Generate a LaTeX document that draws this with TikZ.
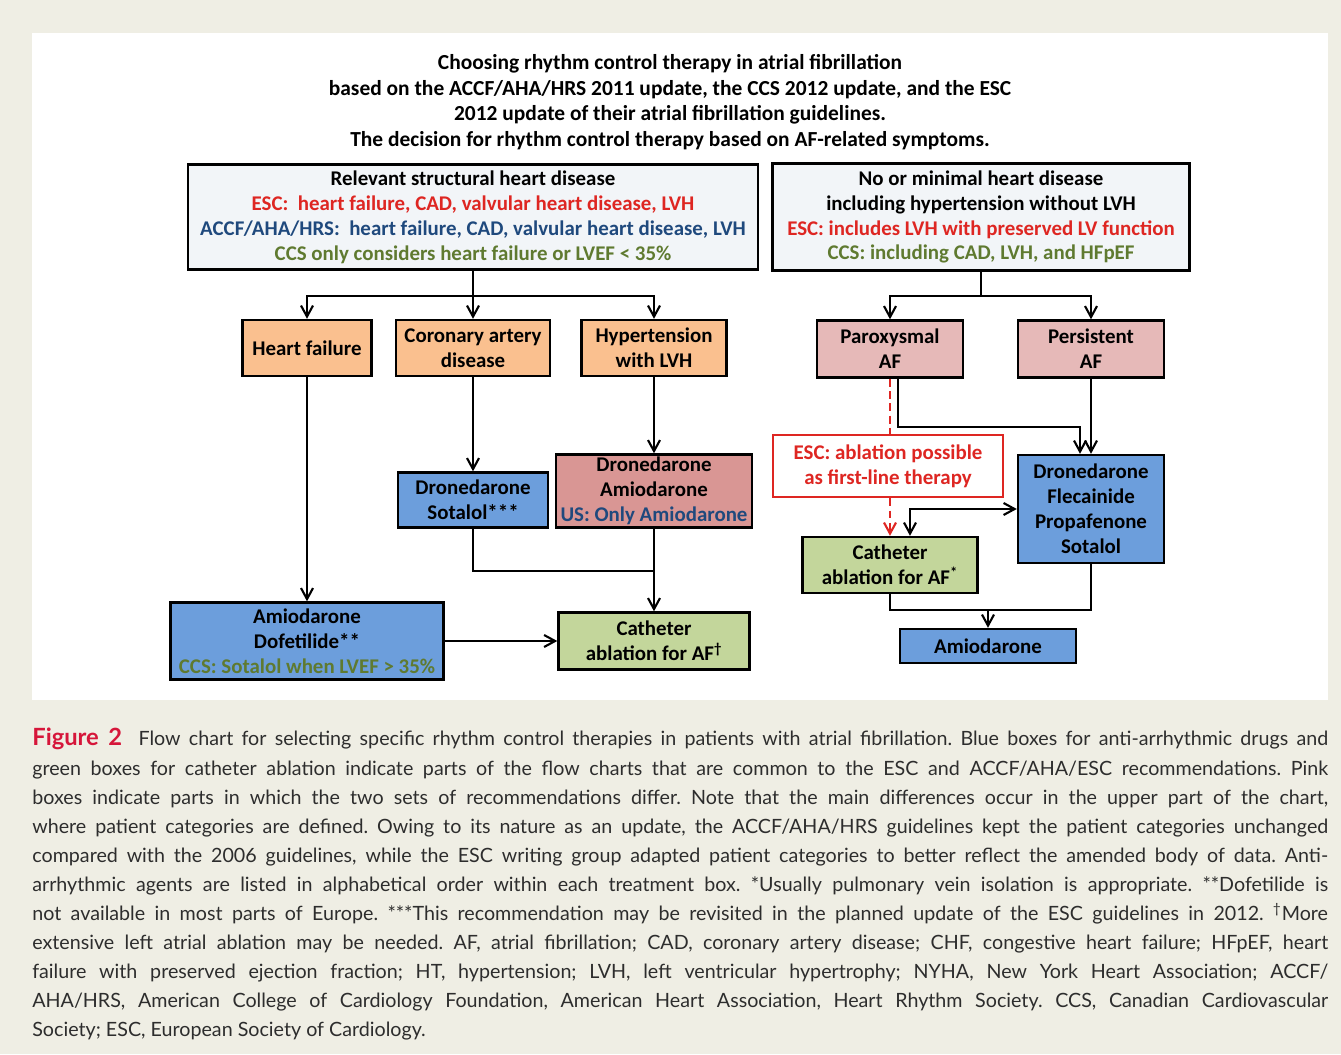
\documentclass[tikz,border=0pt]{standalone}
\usepackage{fontspec}
\setmainfont{Carlito}
\newfontfamily\capfont{Lato}
\usetikzlibrary{positioning,arrows.meta}
\definecolor{pagebeige}{RGB}{239,238,228}
\definecolor{topfill}{RGB}{242,245,248}
\definecolor{orangefill}{RGB}{250,192,143}
\definecolor{pinkfill}{RGB}{230,185,184}
\definecolor{rosefill}{RGB}{217,150,148}
\definecolor{bluefill}{RGB}{108,158,220}
\definecolor{greenfill}{RGB}{195,214,155}
\definecolor{escred}{RGB}{222,38,34}
\definecolor{accblue}{RGB}{31,73,125}
\definecolor{ccsgreen}{RGB}{95,122,48}
\definecolor{figred}{RGB}{214,22,58}
\definecolor{captext}{RGB}{45,45,45}
\tikzset{
  fc box/.style={
    draw=black,
    line width=1.4pt,
    align=center,
    inner sep=1pt,
    font=\fontsize{11.9}{14.2}\selectfont\bfseries
  },
  top box/.style={fc box, fill=topfill},
  group box/.style={fc box, fill=orangefill},
  type box/.style={fc box, fill=pinkfill},
  drug box/.style={fc box, fill=bluefill},
  ablate box/.style={fc box, fill=greenfill},
  note box/.style={fc box, draw=escred, text=escred, fill=white},
  flow line/.style={line width=1.2pt, black},
  flow arrow/.style={
    flow line,
    -{Straight Barb[length=2.2mm,width=2.4mm]}
  },
  esc line/.style={line width=1.2pt, escred, dash pattern=on 4.5pt off 2.5pt}
}

\begin{document}
\begin{tikzpicture}[x=0.02cm, y=-0.02cm]

  % Page and panel
  \useasboundingbox (0,0) rectangle (1341,1054);
  \fill[pagebeige] (0,0) rectangle (1341,1054);
  \fill[white] (32,33) rectangle (1328,700);

  % Title
  \node[font=\fontsize{12.2}{14.6}\selectfont\bfseries, align=center] (title) at (670,102)
    {Choosing rhythm control therapy in atrial fibrillation\\
     based on the ACCF/AHA/HRS 2011 update, the CCS 2012 update, and the ESC\\
     2012 update of their atrial fibrillation guidelines.\\
     The decision for rhythm control therapy based on AF-related symptoms.};

  % Patient categories
  \node[top box, minimum width=11.4cm, minimum height=2.1cm] (shd) at (473,217)
    {Relevant structural heart disease\\
     \textcolor{escred}{ESC:~ heart failure, CAD, valvular heart disease, LVH}\\
     \textcolor{accblue}{ACCF/AHA/HRS:~ heart failure, CAD, valvular heart disease, LVH}\\
     \textcolor{ccsgreen}{CCS only considers heart failure or LVEF < 35\%}};
  \node[top box, minimum width=8.34cm, minimum height=2.14cm] (nhd) at (981,217)
    {No or minimal heart disease\\
     including hypertension without LVH\\
     \textcolor{escred}{ESC: includes LVH with preserved LV function}\\
     \textcolor{ccsgreen}{CCS: including CAD, LVH, and HFpEF}};

  % Left branch
  \node[group box, minimum width=2.58cm, minimum height=1.12cm] (hf) at (307,348) {Heart failure};
  \node[group box, minimum width=3.08cm, minimum height=1.12cm] (cad) at (473,348) {Coronary artery\\disease};
  \node[group box, minimum width=2.9cm, minimum height=1.12cm] (htn) at (654,348) {Hypertension\\with LVH};
  \node[drug box, minimum width=3.0cm, minimum height=1.1cm] (dsot) at (473,500) {Dronedarone\\Sotalol***};
  \node[fc box, fill=rosefill, minimum width=3.92cm, minimum height=1.46cm] (damio) at (654,491)
    {Dronedarone\\Amiodarone\\\textcolor{accblue}{US: Only Amiodarone}};
  \node[drug box, minimum width=5.46cm, minimum height=1.54cm] (adof) at (307,641)
    {Amiodarone\\Dofetilide**\\\textcolor{ccsgreen}{CCS: Sotalol when LVEF > 35\%}};
  \node[ablate box, minimum width=3.82cm, minimum height=1.14cm] (cabl) at (654,641)
    {Catheter\\ablation for AF\textsuperscript{\dag}};

  % Right branch
  \node[type box, minimum width=2.92cm, minimum height=1.14cm] (parox) at (890,349) {Paroxysmal\\AF};
  \node[type box, minimum width=2.92cm, minimum height=1.14cm] (pers) at (1091,349) {Persistent\\AF};
  \node[note box, minimum width=4.6cm, minimum height=1.24cm] (escnote) at (888,466)
    {ESC: ablation possible\\as first-line therapy};
  \node[drug box, minimum width=2.92cm, minimum height=2.16cm] (dflec) at (1091,509)
    {Dronedarone\\Flecainide\\Propafenone\\Sotalol};
  \node[ablate box, minimum width=3.5cm, minimum height=1.12cm] (cabr) at (890,565)
    {Catheter\\ablation for AF\textsuperscript{*}};
  \node[drug box, minimum width=3.52cm, minimum height=0.68cm] (amior) at (988,646) {Amiodarone};

  % Junctions
  \coordinate (jl) at (473,296);
  \coordinate (jr) at (981,296);
  \coordinate (jm) at (654,571);
  \coordinate (kp) at (898,427);
  \coordinate (kd) at (1080,427);
  \coordinate (kc) at (910,509);
  \coordinate (jb) at (988,610);

  % Left connectors
  \draw[flow line] (shd) -- (jl);
  \draw[flow arrow] (jl) -| (hf);
  \draw[flow arrow] (jl) -- (cad);
  \draw[flow arrow] (jl) -| (htn);
  \draw[flow arrow] (hf) -- (adof);
  \draw[flow arrow] (cad) -- (dsot);
  \draw[flow arrow] (htn) -- (damio);
  \draw[flow line] (dsot) |- (jm);
  \draw[flow arrow] (damio) -- (cabl);
  \draw[flow arrow] (adof) -- (cabl);

  % Right connectors
  \draw[flow line] (nhd) -- (jr);
  \draw[flow arrow] (jr) -| (parox);
  \draw[flow arrow] (jr) -| (pers);
  \draw[flow arrow] (pers) -- (dflec);
  \draw[flow arrow] (parox.south -| kp) -- (kp) -- (kd) -- (kd |- dflec.north);
  \draw[esc line] (parox) -- (parox |- escnote.north);
  \draw[esc line, -{Straight Barb[length=2.2mm,width=2.4mm]}] (parox |- escnote.south) -- (cabr);
  \draw[flow line, {Straight Barb[length=2.2mm,width=2.4mm]}-{Straight Barb[length=2.2mm,width=2.4mm]}]
    (kc |- cabr.north) -- (kc) -- (dflec.west);
  \draw[flow line] (cabr) |- (jb);
  \draw[flow line] (dflec) |- (jb);
  \draw[flow arrow] (jb) -- (amior);

  % Caption
  \node[anchor=north west, inner sep=0pt, align=left, text=captext,
        font=\capfont\fontsize{11.2}{16.56}\selectfont\frenchspacing] (caption) at (32,728)
    {\makebox[25.92cm][s]{{\fontsize{13.5}{16}\selectfont\bfseries\color{figred}Figure 2}\ \ Flow chart for selecting specific rhythm control therapies in patients with atrial fibrillation. Blue boxes for anti-arrhythmic drugs and}\\
     \makebox[25.92cm][s]{green boxes for catheter ablation indicate parts of the flow charts that are common to the ESC and ACCF/AHA/ESC recommendations. Pink}\\
     \makebox[25.92cm][s]{boxes indicate parts in which the two sets of recommendations differ. Note that the main differences occur in the upper part of the chart,}\\
     \makebox[25.92cm][s]{where patient categories are defined. Owing to its nature as an update, the ACCF/AHA/HRS guidelines kept the patient categories unchanged}\\
     \makebox[25.92cm][s]{compared with the 2006 guidelines, while the ESC writing group adapted patient categories to better reflect the amended body of data. Anti-}\\
     \makebox[25.92cm][s]{arrhythmic agents are listed in alphabetical order within each treatment box. *Usually pulmonary vein isolation is appropriate. **Dofetilide is}\\
     \makebox[25.92cm][s]{not available in most parts of Europe. ***This recommendation may be revisited in the planned update of the ESC guidelines in 2012. \textsuperscript{\dag}More}\\
     \makebox[25.92cm][s]{extensive left atrial ablation may be needed. AF, atrial fibrillation; CAD, coronary artery disease; CHF, congestive heart failure; HFpEF, heart}\\
     \makebox[25.92cm][s]{failure with preserved ejection fraction; HT, hypertension; LVH, left ventricular hypertrophy; NYHA, New York Heart Association; ACCF/}\\
     \makebox[25.92cm][s]{AHA/HRS, American College of Cardiology Foundation, American Heart Association, Heart Rhythm Society. CCS, Canadian Cardiovascular}\\
     Society; ESC, European Society of Cardiology.};

\end{tikzpicture}
\end{document}
